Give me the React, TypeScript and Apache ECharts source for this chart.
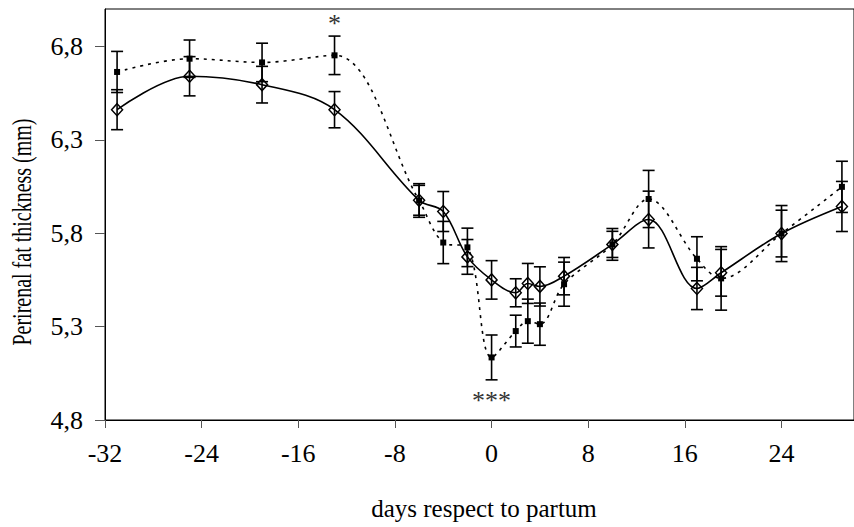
import React, { useEffect, useRef } from 'react';
import * as echarts from 'echarts';

// ---- data ----
const days = [-31, -25, -19, -13, -6, -4, -2, 0, 2, 3, 4, 6, 10, 13, 17, 19, 24, 29];
const dottedMeans = [6.663, 6.734, 6.714, 6.752, 5.975, 5.75, 5.724, 5.135, 5.276, 5.329, 5.313, 5.527, 5.74, 5.983, 5.663, 5.558, 5.798, 6.048];
const dottedSE = [0.11, 0.1, 0.103, 0.103, 0.09, 0.113, 0.103, 0.12, 0.085, 0.118, 0.113, 0.118, 0.085, 0.153, 0.118, 0.17, 0.15, 0.137];
const solidMeans = [6.461, 6.64, 6.595, 6.461, 5.976, 5.916, 5.673, 5.55, 5.481, 5.531, 5.515, 5.57, 5.74, 5.873, 5.504, 5.588, 5.798, 5.943];
const solidSE = [0.107, 0.105, 0.098, 0.097, 0.08, 0.107, 0.093, 0.103, 0.075, 0.107, 0.105, 0.1, 0.07, 0.152, 0.113, 0.125, 0.125, 0.134];
const xTicks = [-32, -24, -16, -8, 0, 8, 16, 24];
const yTicks = [4.8, 5.3, 5.8, 6.3, 6.8];
const xTitle = 'days respect to partum';
const yTitle = 'Perirenal fat thickness (mm)';
const annotDays = [-13, 0];
const annotValues = [6.925, 4.905];
const annotTexts = ['*', '***'];

const FONT = '"Liberation Serif", "Times New Roman", serif';

function errorBarSeries(means: number[], se: number[]) {
  return {
    type: 'custom',
    silent: true,
    z: 3,
    data: days.map((d, i) => [d, means[i], se[i]]),
    encode: { x: 0, y: 1 },
    renderItem: (_params: any, api: any) => {
      const x = api.value(0);
      const y = api.value(1);
      const e = api.value(2);
      const top = api.coord([x, y + e]);
      const bot = api.coord([x, y - e]);
      const hw = 6;
      const style = { stroke: '#000', lineWidth: 1.6, fill: null };
      return {
        type: 'group',
        children: [
          { type: 'line', shape: { x1: top[0], y1: top[1], x2: bot[0], y2: bot[1] }, style },
          { type: 'line', shape: { x1: top[0] - hw, y1: top[1], x2: top[0] + hw, y2: top[1] }, style },
          { type: 'line', shape: { x1: bot[0] - hw, y1: bot[1], x2: bot[0] + hw, y2: bot[1] }, style },
        ],
      };
    },
  };
}

export default function App() {
  const ref = useRef<HTMLDivElement>(null);
  useEffect(() => {
    if (!ref.current) return;
    const chart = echarts.init(ref.current, null, { renderer: 'svg' });
    const fmt = (v: number) => (Math.abs(v - Math.round(v)) < 1e-9 ? String(Math.round(v)) : v.toFixed(1).replace('.', ','));
    chart.setOption({
      animation: false,
      backgroundColor: '#fff',
      grid: { left: 105, top: 9, right: -5, bottom: 107, show: true, borderColor: '#000', borderWidth: 1 },
      xAxis: {
        type: 'value',
        min: -32,
        max: 30,
        interval: 8,
        splitLine: { show: false },
        axisLine: { onZero: false, lineStyle: { color: '#000', width: 1 } },
        axisTick: { length: 8, lineStyle: { color: '#555' }, customValues: xTicks },
        axisLabel: { customValues: xTicks, margin: 20, fontFamily: FONT, fontSize: 26, color: '#000', formatter: (v: number) => fmt(v) },
      },
      yAxis: {
        type: 'value',
        min: 4.8,
        max: 7.0,
        interval: 0.5,
        splitLine: { show: false },
        axisLine: { show: true, onZero: false, lineStyle: { color: '#000', width: 1 } },
        axisTick: { show: true, length: 10, lineStyle: { color: '#555' }, customValues: yTicks },
        axisLabel: { customValues: yTicks, margin: 22, fontFamily: FONT, fontSize: 26, color: '#000', formatter: (v: number) => fmt(v) },
      },
      graphic: [
        {
          type: 'group',
          x: 22,
          y: 232,
          rotation: Math.PI / 2,
          children: [
            { type: 'text', x: 0, y: 0, scaleX: 1, scaleY: 1.35, style: { text: yTitle, font: `20px ${FONT}`, fill: '#000', align: 'center', verticalAlign: 'middle' } },
          ],
        },
        { type: 'text', x: 484, y: 508, style: { text: xTitle, font: `25px ${FONT}`, fill: '#000', align: 'center', verticalAlign: 'middle' } },
      ],
      series: [
        errorBarSeries(dottedMeans, dottedSE),
        errorBarSeries(solidMeans, solidSE),
        {
          type: 'line',
          smooth: 0.35,
          z: 4,
          data: days.map((d, i) => [d, dottedMeans[i]]),
          symbol: 'rect',
          symbolSize: 6,
          itemStyle: { color: '#000' },
          lineStyle: { color: '#000', width: 1.6, type: [3, 5] },
          markPoint: {
            symbol: 'rect',
            symbolSize: 1,
            itemStyle: { color: 'rgba(0,0,0,0)' },
            label: { show: true, position: 'inside', fontFamily: FONT, fontSize: 26, color: '#333', formatter: (p: any) => p.name },
            data: annotDays.map((d, i) => ({ coord: [d, annotValues[i]], name: annotTexts[i] })),
          },
        },
        {
          type: 'line',
          smooth: 0.35,
          z: 5,
          data: days.map((d, i) => [d, solidMeans[i]]),
          symbol: 'diamond',
          symbolSize: [11, 12],
          itemStyle: { color: 'rgba(0,0,0,0)', borderColor: '#000', borderWidth: 1.5 },
          lineStyle: { color: '#000', width: 1.6, type: 'solid' },
        },
      ],
    });
    return () => chart.dispose();
  }, []);
  return <div ref={ref} style={{ position: 'fixed', left: 0, top: 0, width: 854, height: 527 }} />;
}
